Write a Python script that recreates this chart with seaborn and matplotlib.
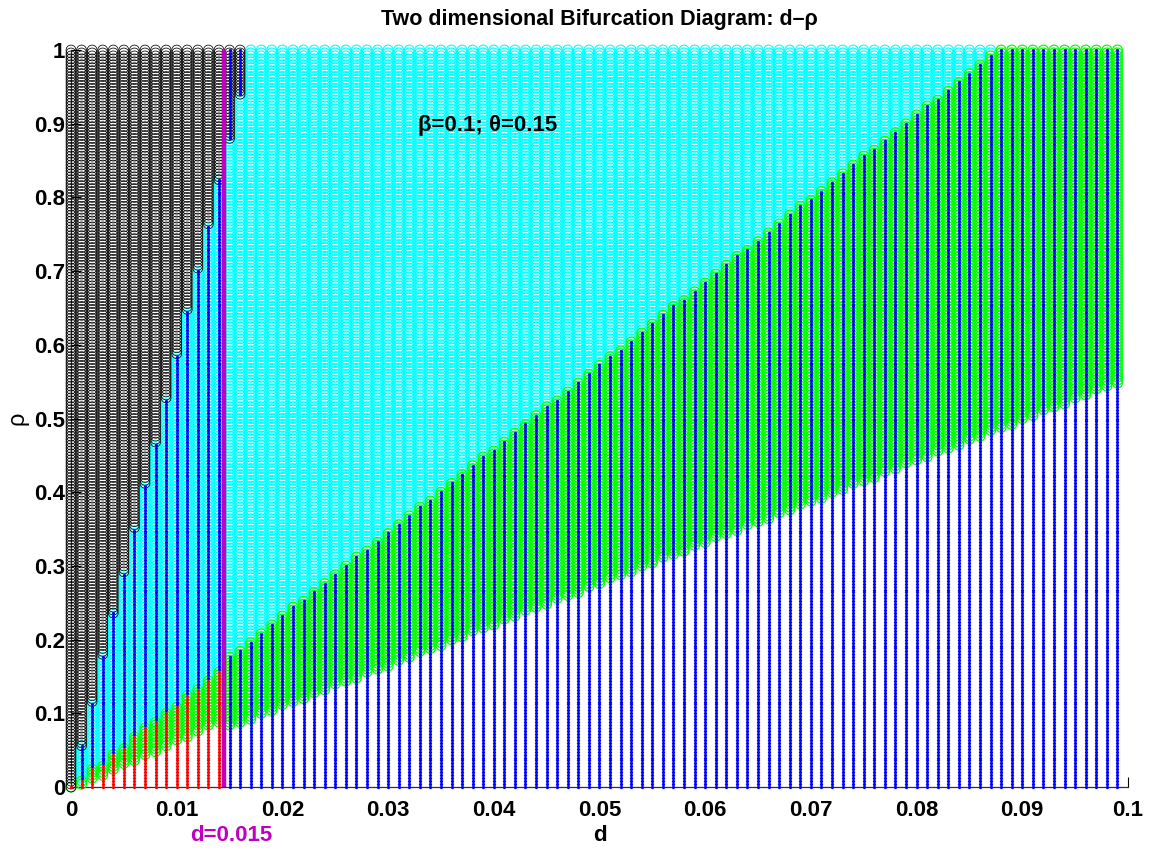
import matplotlib
matplotlib.use("Agg")
import matplotlib.pyplot as plt
import matplotlib.transforms as mtransforms
import seaborn as sns
import numpy as np
import pandas as pd

# parameter grid of the scan: d = 0:0.001:0.099, rho = 0:0.004:1
d_values = np.round(np.arange(100) * 0.001, 3)
rho_values = np.round(np.arange(251) * 0.004, 3)

# columns d < 0.015 (k = 0..14)
green_top_left = [0.0, 0.008, 0.024, 0.031, 0.045, 0.054, 0.068, 0.080, 0.088,
                  0.101, 0.110, 0.126, 0.135, 0.146, 0.156]
green_bottom_left = [0.0, 0.004, 0.009, 0.015, 0.022, 0.029, 0.036, 0.042, 0.047,
                     0.054, 0.061, 0.068, 0.074, 0.081, 0.086]
# where the black circles start (k = 0..16)
black_bottom = [0.0, 0.056, 0.115, 0.177, 0.236, 0.290, 0.351, 0.411, 0.467,
                0.526, 0.586, 0.647, 0.701, 0.763, 0.824, 0.878, 0.939]

# columns d >= 0.015 (k = 15..99): top of the blue/green band and bottom of green
upper_right = [0.176, 0.187, 0.199, 0.210, 0.221, 0.233, 0.244, 0.255, 0.267, 0.278,
               0.289, 0.301, 0.312, 0.323, 0.335, 0.346, 0.357, 0.369, 0.380, 0.391,
               0.403, 0.414, 0.425, 0.437, 0.448, 0.459, 0.471, 0.482, 0.493, 0.505,
               0.516, 0.527, 0.539, 0.550, 0.561, 0.573, 0.584, 0.595, 0.607, 0.618,
               0.629, 0.640, 0.652, 0.663, 0.674, 0.686, 0.697, 0.708, 0.720, 0.731,
               0.742, 0.754, 0.765, 0.776, 0.788, 0.799, 0.810, 0.822, 0.833, 0.844,
               0.856, 0.867, 0.878, 0.890, 0.901, 0.912, 0.924, 0.935, 0.946, 0.958,
               0.969, 0.980, 0.992, 1.0, 1.0, 1.0, 1.0, 1.0, 1.0, 1.0,
               1.0, 1.0, 1.0, 1.0, 1.0]
lower_right = [0.081, 0.087, 0.092, 0.098, 0.103, 0.109, 0.114, 0.120, 0.125, 0.131,
               0.137, 0.142, 0.148, 0.153, 0.159, 0.164, 0.170, 0.175, 0.181, 0.187,
               0.192, 0.198, 0.203, 0.209, 0.214, 0.220, 0.225, 0.231, 0.237, 0.242,
               0.248, 0.253, 0.259, 0.264, 0.270, 0.275, 0.281, 0.287, 0.292, 0.298,
               0.303, 0.309, 0.314, 0.320, 0.325, 0.331, 0.337, 0.342, 0.348, 0.353,
               0.359, 0.364, 0.370, 0.375, 0.381, 0.387, 0.392, 0.398, 0.403, 0.409,
               0.414, 0.420, 0.425, 0.431, 0.437, 0.442, 0.448, 0.453, 0.459, 0.464,
               0.470, 0.475, 0.481, 0.487, 0.492, 0.498, 0.503, 0.509, 0.514, 0.520,
               0.525, 0.531, 0.537, 0.542, 0.548]

d_critical = 0.0145
xtick_labels = ['0', '0.01', '0.02', '0.03', '0.04', '0.05', '0.06', '0.07', '0.08', '0.09', '0.1']
ytick_labels = ['0', '0.1', '0.2', '0.3', '0.4', '0.5', '0.6', '0.7', '0.8', '0.9', '1']

eps = 1e-6
rows = []
for k, d in enumerate(d_values):
    for r in rho_values:
        kinds = []
        if k < 15:
            gt, gb, bk = green_top_left[k], green_bottom_left[k], black_bottom[k]
            if r <= gt + eps:
                kinds.append('red')
            if gb - eps <= r <= gt + eps:
                kinds.append('green')
            if gt + eps < r <= bk + eps:
                kinds += ['cyan', 'blue']
            if r >= bk - eps:
                kinds.append('black')
        else:
            up, lo = upper_right[k - 15], lower_right[k - 15]
            if r <= up + eps:
                kinds.append('blue')
            if lo - eps <= r <= up + eps:
                kinds.append('green')
            top_black = k < len(black_bottom) and r >= black_bottom[k] - eps
            if r > up + eps and not top_black:
                kinds.append('cyan')
            if top_black:
                kinds += ['black', 'blue']
        for kind in kinds:
            rows.append((d, r, kind))

df = pd.DataFrame(rows, columns=['d', 'rho', 'kind'])

sns.set_style('ticks')
plt.rcParams['font.family'] = ['Liberation Sans', 'DejaVu Sans']
for key in ['text.color', 'axes.labelcolor', 'xtick.color', 'ytick.color']:
    plt.rcParams[key] = 'black'

fig, ax = plt.subplots(figsize=(11.6, 8.55), dpi=100)
fig.subplots_adjust(left=0.0612, right=0.9724, bottom=0.0795, top=0.9415)

circle_styles = [('cyan', '#00ffff', 0.8), ('green', '#00ff00', 0.85), ('black', '#000000', 0.55)]
dot_styles = [('red', '#ff0000'), ('blue', '#0000ff')]

for kind, col, lw in circle_styles:
    sub = df[df['kind'] == kind]
    sns.scatterplot(data=sub, x='d', y='rho', marker='o', s=50, color=col,
                    facecolor='none', edgecolor=col, linewidth=lw,
                    clip_on=False, legend=False, ax=ax, zorder=3)
for kind, col in dot_styles:
    sub = df[df['kind'] == kind]
    sns.scatterplot(data=sub, x='d', y='rho', marker='o', s=5.5, color=col,
                    linewidth=0, clip_on=False, legend=False, ax=ax, zorder=4)

ax.plot([d_critical, d_critical], [0, 1], color='#bf00bf', linewidth=3.2, zorder=5)

ax.set_xlim(0, 0.1)
ax.set_ylim(0, 1)
ax.set_xticks(np.linspace(0, 0.1, 11))
ax.set_xticklabels(xtick_labels)
ax.set_yticks(np.linspace(0, 1, 11))
ax.set_yticklabels(ytick_labels)
ax.tick_params(direction='in', length=7, width=0.8, labelsize=16, colors='black')
ax.tick_params(axis='x', pad=9)
ax.tick_params(axis='y', pad=4)
for lab in ax.get_xticklabels() + ax.get_yticklabels():
    lab.set_fontweight('bold')
sns.despine(ax=ax)
for sp in ['left', 'bottom']:
    ax.spines[sp].set_linewidth(0.9)
    ax.spines[sp].set_color('#303030')

ax.set_xlabel('d', fontsize=16, fontweight='bold', labelpad=3)
ax.set_ylabel('ρ', fontsize=17, labelpad=4)
ax.set_title('Two dimensional Bifurcation Diagram: d–ρ', fontsize=15.5,
             fontweight='bold', pad=18)

ax.text(0.0328, 0.898, 'β=0.1; θ=0.15', fontsize=16, fontweight='bold',
        va='center', ha='left', zorder=6)

trans = mtransforms.blended_transform_factory(ax.transData, ax.transAxes)
ax.text(0.0152, -0.066, 'd=0.015', transform=trans, color='#bf00bf',
        fontsize=16, fontweight='bold', ha='center', va='center')

fig.savefig('out.png', dpi=100)
